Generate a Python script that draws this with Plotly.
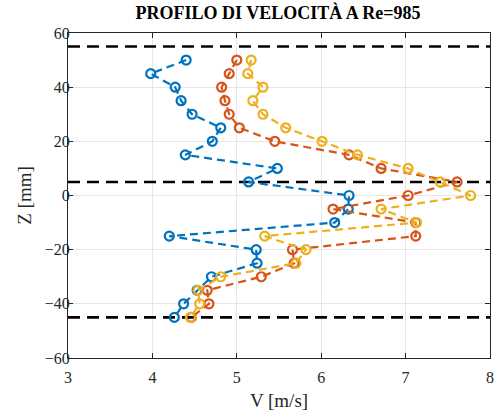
import plotly.graph_objects as go

z = [50, 45, 40, 35, 30, 25, 20, 15, 10, 5, 0, -5, -10, -15, -20, -25, -30, -35, -40, -45]
v_blue = [4.40, 3.98, 4.27, 4.34, 4.47, 4.81, 4.71, 4.39, 5.48, 5.14, 6.33, 6.32, 6.16,
          4.20, 5.23, 5.24, 4.70, 4.53, 4.37, 4.26]
v_red = [5.00, 4.91, 4.82, 4.86, 4.91, 5.03, 5.45, 6.33, 6.71, 7.61, 7.03, 6.14, 7.12,
         7.12, 5.66, 5.68, 5.29, 4.65, 4.67, 4.46]
v_yellow = [5.17, 5.13, 5.31, 5.19, 5.31, 5.58, 6.01, 6.43, 7.03, 7.41, 7.77, 6.71, 7.13,
            5.33, 5.82, 5.70, 4.81, 4.54, 4.56, 4.45]
h_levels = [55, 5, -45]
x_limits = [3, 8]

series = [(v_blue, "#0072BD"), (v_red, "#D95319"), (v_yellow, "#EDB120")]

fig = go.Figure()
for lvl in h_levels:
    fig.add_trace(go.Scatter(x=x_limits, y=[lvl, lvl], mode="lines",
                             line=dict(color="black", width=2.6, dash="12px,7px"),
                             showlegend=False, hoverinfo="skip"))
for vals, col in series:
    fig.add_trace(go.Scatter(x=vals, y=z, mode="lines+markers",
                             line=dict(color=col, width=2.2, dash="8px,5px"),
                             marker=dict(symbol="circle-open", size=9,
                                         line=dict(color=col, width=2.2)),
                             showlegend=False))

font = "Liberation Serif"
axis_common = dict(showgrid=True, gridcolor="#e6e6e6", gridwidth=1,
                   showline=True, linecolor="#262626", linewidth=1,
                   mirror="allticks", ticks="inside", ticklen=5, tickcolor="#262626",
                   zeroline=False, automargin=False,
                   tickfont=dict(family=font, size=16, color="#262626"))
fig.update_xaxes(range=[3, 8], tickmode="array", tickvals=[3, 4, 5, 6, 7, 8],
                 ticklabelstandoff=5,
                 title=dict(text="V [m/s]", font=dict(family=font, size=19, color="#262626"),
                            standoff=8),
                 **axis_common)
fig.update_yaxes(range=[-60, 60], tickmode="array", tickvals=[-60, -40, -20, 0, 20, 40, 60],
                 ticklabelstandoff=-6,
                 title=dict(text="Z [mm]", font=dict(family=font, size=19, color="#262626"),
                            standoff=8),
                 **axis_common)
fig.update_layout(width=500, height=414,
                  margin=dict(l=68, r=10, t=33, b=56),
                  paper_bgcolor="white", plot_bgcolor="white",
                  title=dict(text="<b>PROFILO DI VELOCITÀ A Re=985</b>",
                             font=dict(family=font, size=18, color="black"),
                             x=0.556, xanchor="center", y=0.985, yanchor="top"),
                  showlegend=False)
fig.write_html("out.html")
